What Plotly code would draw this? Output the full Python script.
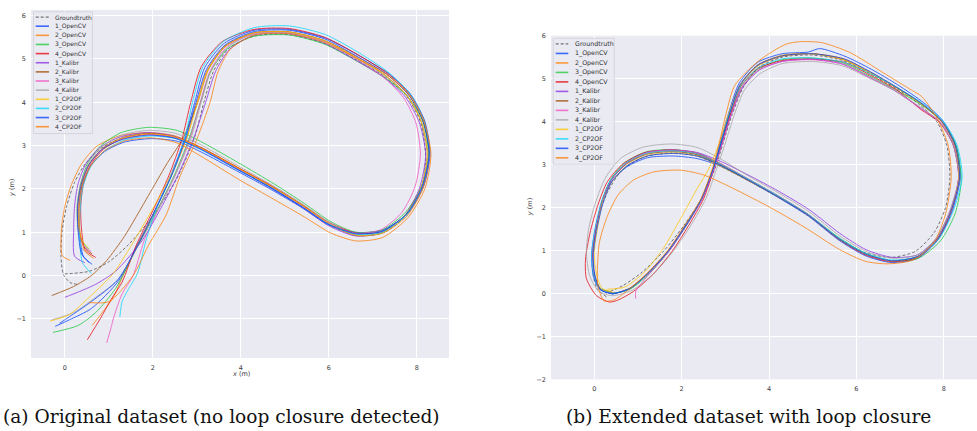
import plotly.graph_objects as go

# ---------------- data ----------------
NAMES = ["Groundtruth", "1_OpenCV", "2_OpenCV", "3_OpenCV", "4_OpenCV",
         "1_Kalibr", "2_Kalibr", "3_Kalibr", "4_Kalibr",
         "1_CP2OF", "2_CP2OF", "3_CP2OF", "4_CP2OF"]
COLORS = ["#555555", "#023eff", "#ff7c00", "#1ac938", "#e8000b",
          "#8b2be2", "#9f4800", "#f14cc1", "#a3a3a3",
          "#ffc400", "#00d7ff", "#023eff", "#ff7c00"]

X_TICKS = [0, 2, 4, 6, 8]
Y_TICKS_A = [-1, 0, 1, 2, 3, 4, 5, 6]
Y_TICKS_B = [-2, -1, 0, 1, 2, 3, 4, 5, 6]

CAPTION_A = "(a) Original dataset (no loop closure detected)"
CAPTION_B = "(b) Extended dataset with loop closure"

# (a) original dataset, no loop closure
GT_A = [(0.28,-0.20),(0.12,-0.16),(-0.03,0.02),(-0.09,0.45),(-0.06,1.05),(0.04,1.60),(0.22,2.15),(0.48,2.60),(0.88,2.98),(1.40,3.20),(2.00,3.28),(2.60,3.18),(3.20,2.90),(4.00,2.42),(4.80,1.96),(5.50,1.52),(6.10,1.12),(6.70,0.92),(7.30,1.02),(7.80,1.44),(8.12,2.06),(8.20,2.80),(8.08,3.55),(7.76,4.15),(7.26,4.60),(6.58,5.00),(5.88,5.36),(5.10,5.56),(4.30,5.53),(3.72,5.24),(3.38,4.72),(3.16,4.00),(2.95,3.20),(2.55,2.25),(2.02,1.40),(1.45,0.72),(1.00,0.32),(0.55,0.10),(0.00,0.04)]
A_1_OPENCV = [(0.62,0.26),(0.42,0.45),(0.33,1.05),(0.32,1.60),(0.40,2.10),(0.58,2.52),(0.90,2.86),(1.35,3.08),(1.95,3.16),(2.55,3.10),(3.10,2.85),(3.90,2.42),(4.70,1.98),(5.40,1.56),(6.00,1.17),(6.60,1.00),(7.20,1.04),(7.78,1.42),(8.15,2.05),(8.30,2.80),(8.18,3.56),(7.86,4.18),(7.36,4.66),(6.64,5.10),(5.92,5.48),(5.10,5.68),(4.30,5.66),(3.62,5.36),(3.18,4.80),(2.95,4.00),(2.72,3.15),(2.40,2.30),(2.05,1.52),(1.65,0.72),(1.22,-0.12),(0.60,-0.76),(0.10,-1.02),(-0.22,-1.17)]
A_2_OPENCV = [(0.12,0.35),(-0.06,0.46),(-0.08,1.05),(0.00,1.60),(0.15,2.10),(0.38,2.58),(0.72,2.98),(1.22,3.22),(1.90,3.30),(2.52,3.22),(3.12,2.94),(3.92,2.50),(4.72,2.04),(5.42,1.60),(6.02,1.18),(6.62,0.92),(7.22,0.98),(7.78,1.38),(8.14,2.02),(8.28,2.80),(8.14,3.56),(7.82,4.16),(7.32,4.64),(6.62,5.06),(5.90,5.42),(5.10,5.62),(4.30,5.60),(3.64,5.30),(3.24,4.75),(3.00,4.00),(2.76,3.15),(2.42,2.30),(2.06,1.52),(1.68,0.76),(1.30,-0.05),(1.10,-0.50),(0.85,-0.85),(0.62,-1.15)]
A_3_OPENCV = [(0.55,0.60),(0.40,0.78),(0.30,1.10),(0.28,1.60),(0.36,2.12),(0.52,2.60),(0.82,3.00),(1.28,3.30),(1.90,3.42),(2.55,3.35),(3.15,3.06),(3.95,2.60),(4.75,2.12),(5.45,1.66),(6.05,1.24),(6.62,1.00),(7.22,1.06),(7.76,1.48),(8.12,2.10),(8.26,2.82),(8.14,3.55),(7.80,4.12),(7.28,4.56),(6.58,4.98),(5.90,5.34),(5.10,5.55),(4.30,5.52),(3.68,5.22),(3.30,4.68),(3.08,4.00),(2.82,3.15),(2.48,2.30),(2.10,1.52),(1.66,0.70),(1.15,-0.30),(0.70,-0.85),(0.30,-1.15),(-0.27,-1.31)]
A_4_OPENCV = [(0.70,0.42),(0.46,0.60),(0.38,1.05),(0.36,1.60),(0.42,2.10),(0.58,2.55),(0.88,2.92),(1.32,3.16),(1.92,3.26),(2.52,3.18),(3.12,2.94),(3.92,2.50),(4.72,2.06),(5.42,1.62),(6.02,1.22),(6.62,0.98),(7.22,1.02),(7.78,1.44),(8.14,2.08),(8.28,2.82),(8.16,3.58),(7.84,4.18),(7.34,4.66),(6.62,5.12),(5.90,5.50),(5.10,5.70),(4.30,5.68),(3.58,5.40),(3.10,4.82),(2.86,4.00),(2.66,3.15),(2.36,2.30),(2.00,1.50),(1.62,0.70),(1.30,-0.15),(1.05,-0.55),(0.80,-1.00),(0.51,-1.48)]
A_1_KALIBR = [(0.45,0.30),(0.22,0.45),(0.20,1.05),(0.22,1.60),(0.30,2.12),(0.48,2.58),(0.80,2.96),(1.26,3.20),(1.88,3.30),(2.48,3.22),(3.08,2.94),(3.88,2.48),(4.68,2.02),(5.38,1.58),(5.98,1.16),(6.58,0.92),(7.18,0.98),(7.72,1.38),(8.06,2.02),(8.20,2.78),(8.06,3.52),(7.74,4.12),(7.24,4.58),(6.56,5.00),(5.86,5.38),(5.08,5.58),(4.30,5.55),(3.74,5.22),(3.42,4.70),(3.20,4.00),(2.92,3.15),(2.56,2.30),(2.18,1.55),(1.75,0.80),(1.15,0.10),(0.70,-0.20),(0.30,-0.38),(0.00,-0.50)]
A_2_KALIBR = [(0.62,0.50),(0.44,0.66),(0.32,1.05),(0.30,1.60),(0.38,2.10),(0.55,2.56),(0.86,2.94),(1.30,3.18),(1.90,3.28),(2.50,3.20),(3.10,2.94),(3.90,2.50),(4.70,2.05),(5.40,1.62),(6.00,1.20),(6.60,0.94),(7.20,0.98),(7.74,1.40),(8.10,2.04),(8.24,2.80),(8.10,3.55),(7.78,4.15),(7.28,4.62),(6.60,5.04),(5.90,5.42),(5.10,5.62),(4.30,5.60),(3.66,5.30),(3.26,4.75),(3.02,4.00),(2.70,3.20),(2.30,2.55),(1.90,1.85),(1.35,0.90),(0.95,0.35),(0.60,0.00),(0.20,-0.25),(-0.30,-0.46)]
A_3_KALIBR = [(0.60,0.55),(0.42,0.70),(0.32,1.05),(0.30,1.60),(0.38,2.10),(0.55,2.55),(0.86,2.92),(1.30,3.16),(1.90,3.26),(2.50,3.19),(3.10,2.93),(3.90,2.48),(4.70,2.03),(5.40,1.60),(6.00,1.20),(6.60,0.98),(7.18,1.06),(7.66,1.46),(7.96,2.06),(8.08,2.80),(7.98,3.52),(7.70,4.10),(7.24,4.58),(6.58,5.02),(5.90,5.40),(5.10,5.60),(4.30,5.58),(3.68,5.28),(3.30,4.72),(3.08,4.00),(2.84,3.15),(2.50,2.30),(2.12,1.52),(1.80,0.80),(1.55,0.00),(1.30,-0.42),(1.10,-1.00),(1.05,-1.20),(0.95,-1.55)]
A_4_KALIBR = [(0.58,0.45),(0.40,0.62),(0.30,1.05),(0.28,1.60),(0.35,2.10),(0.52,2.56),(0.82,2.96),(1.28,3.24),(1.90,3.35),(2.52,3.28),(3.12,3.00),(3.92,2.54),(4.72,2.08),(5.42,1.64),(6.02,1.22),(6.60,0.94),(7.20,0.98),(7.74,1.40),(8.10,2.04),(8.24,2.80),(8.10,3.55),(7.78,4.15),(7.28,4.60),(6.60,5.02),(5.90,5.40),(5.10,5.60),(4.30,5.57),(3.70,5.27),(3.32,4.72),(3.10,4.00),(2.86,3.15),(2.50,2.30),(2.12,1.52),(1.70,0.75),(1.20,-0.10),(0.70,-0.50),(0.20,-0.85),(-0.30,-1.02)]
A_1_CP2OF = [(0.55,0.62),(0.40,0.80),(0.32,1.10),(0.30,1.60),(0.37,2.10),(0.54,2.55),(0.84,2.92),(1.28,3.16),(1.90,3.27),(2.50,3.20),(3.10,2.94),(3.90,2.50),(4.70,2.05),(5.40,1.62),(6.00,1.20),(6.60,0.94),(7.20,0.98),(7.74,1.40),(8.10,2.04),(8.24,2.80),(8.10,3.55),(7.78,4.15),(7.28,4.62),(6.60,5.04),(5.90,5.42),(5.10,5.62),(4.30,5.60),(3.66,5.30),(3.26,4.75),(3.02,4.00),(2.76,3.15),(2.40,2.30),(2.00,1.55),(1.60,0.85),(1.10,0.05),(0.50,-0.55),(0.10,-0.90),(-0.34,-1.05)]
A_2_CP2OF = [(0.60,0.05),(0.40,0.30),(0.34,0.80),(0.34,1.40),(0.40,2.00),(0.58,2.50),(0.90,2.88),(1.34,3.12),(1.94,3.22),(2.52,3.16),(3.10,2.90),(3.90,2.46),(4.70,2.02),(5.40,1.58),(6.00,1.18),(6.60,0.96),(7.20,1.00),(7.76,1.40),(8.12,2.04),(8.28,2.80),(8.16,3.58),(7.84,4.20),(7.34,4.70),(6.62,5.18),(5.92,5.56),(5.10,5.76),(4.30,5.72),(3.60,5.40),(3.14,4.82),(2.90,4.00),(2.72,3.15),(2.42,2.30),(2.08,1.55),(1.84,0.80),(1.65,0.05),(1.45,-0.30),(1.30,-0.60),(1.25,-0.95)]
A_3_CP2OF = [(0.55,0.30),(0.38,0.50),(0.30,1.05),(0.29,1.60),(0.37,2.10),(0.54,2.55),(0.85,2.92),(1.30,3.14),(1.90,3.24),(2.50,3.17),(3.10,2.91),(3.90,2.46),(4.70,2.02),(5.40,1.58),(6.00,1.18),(6.60,0.97),(7.20,1.02),(7.76,1.42),(8.12,2.06),(8.28,2.80),(8.14,3.56),(7.82,4.16),(7.32,4.64),(6.60,5.08),(5.90,5.46),(5.10,5.66),(4.30,5.63),(3.64,5.32),(3.22,4.76),(2.98,4.00),(2.74,3.15),(2.42,2.30),(2.06,1.52),(1.68,0.74),(1.20,-0.10),(0.60,-0.60),(0.10,-0.95),(-0.12,-1.10)]
A_4_CP2OF = [(0.65,0.40),(0.45,0.58),(0.34,1.05),(0.33,1.60),(0.40,2.10),(0.58,2.52),(0.90,2.88),(1.34,3.10),(1.95,3.18),(2.55,3.06),(3.15,2.72),(3.95,2.22),(4.75,1.76),(5.45,1.35),(6.05,0.98),(6.62,0.80),(7.22,0.88),(7.80,1.34),(8.18,2.00),(8.32,2.80),(8.16,3.56),(7.84,4.16),(7.34,4.62),(6.62,5.02),(5.90,5.38),(5.10,5.58),(4.30,5.55),(3.76,5.22),(3.48,4.70),(3.30,4.00),(3.00,3.15),(2.62,2.30),(2.30,1.40),(1.90,0.70),(1.55,0.00),(1.00,-0.60),(0.55,-0.62)]

# (b) extended dataset with loop closure
GT_B = [(0.28,-0.08),(0.06,0.12),(-0.04,0.55),(-0.02,1.15),(0.08,1.75),(0.30,2.35),(0.62,2.85),(1.12,3.17),(1.75,3.27),(2.35,3.20),(2.85,2.98),(3.50,2.64),(4.20,2.25),(4.90,1.82),(5.60,1.28),(6.20,0.95),(6.80,0.84),(7.35,0.98),(7.78,1.42),(8.04,2.00),(8.14,2.70),(8.07,3.45),(7.84,4.00),(7.44,4.40),(6.90,4.78),(6.30,5.12),(5.70,5.42),(5.00,5.55),(4.30,5.50),(3.75,5.25),(3.40,4.78),(3.15,4.15),(2.95,3.50),(2.76,2.90),(2.45,2.20),(2.05,1.58),(1.60,1.00),(1.10,0.50),(0.65,0.18),(0.25,0.00)]
B_1_OPENCV = [(0.40,0.00),(0.12,0.10),(-0.02,0.40),(-0.06,0.90),(0.02,1.50),(0.17,2.10),(0.38,2.58),(0.75,2.95),(1.22,3.16),(1.80,3.20),(2.35,3.14),(2.85,2.98),(3.50,2.64),(4.20,2.24),(4.90,1.80),(5.60,1.24),(6.20,0.88),(6.80,0.72),(7.40,0.82),(7.86,1.24),(8.18,1.88),(8.38,2.70),(8.28,3.45),(7.98,4.02),(7.54,4.44),(6.94,4.86),(6.34,5.22),(5.74,5.52),(5.16,5.70),(4.90,5.62),(4.30,5.58),(3.74,5.38),(3.32,4.90),(3.08,4.22),(2.88,3.50),(2.72,2.90),(2.46,2.20),(2.10,1.60),(1.70,1.00),(1.25,0.50),(0.80,0.10),(0.40,-0.02)]
B_2_OPENCV = [(0.45,0.02),(0.15,0.10),(0.00,0.42),(-0.04,0.92),(0.04,1.52),(0.17,2.12),(0.37,2.62),(0.72,3.02),(1.20,3.26),(1.80,3.32),(2.35,3.24),(2.85,3.02),(3.50,2.66),(4.20,2.26),(4.90,1.83),(5.60,1.28),(6.20,0.92),(6.80,0.76),(7.40,0.86),(7.86,1.28),(8.16,1.90),(8.36,2.70),(8.26,3.45),(7.96,4.00),(7.52,4.40),(6.92,4.80),(6.32,5.15),(5.72,5.46),(5.00,5.58),(4.30,5.52),(3.75,5.30),(3.35,4.85),(3.10,4.20),(2.90,3.50),(2.72,2.90),(2.45,2.20),(2.10,1.60),(1.70,1.00),(1.25,0.50),(0.80,0.12),(0.45,0.00)]
B_3_OPENCV = [(0.40,0.02),(0.14,0.12),(0.00,0.44),(-0.04,0.94),(0.04,1.54),(0.18,2.14),(0.38,2.66),(0.72,3.06),(1.20,3.30),(1.80,3.35),(2.36,3.27),(2.86,3.04),(3.50,2.68),(4.20,2.28),(4.90,1.84),(5.60,1.30),(6.20,0.94),(6.80,0.76),(7.42,0.82),(7.92,1.22),(8.26,1.86),(8.40,2.64),(8.28,3.44),(7.96,4.00),(7.50,4.38),(6.90,4.74),(6.30,5.06),(5.70,5.36),(5.00,5.48),(4.30,5.44),(3.76,5.22),(3.38,4.80),(3.12,4.18),(2.92,3.50),(2.73,2.90),(2.46,2.20),(2.12,1.60),(1.72,1.00),(1.28,0.48),(0.82,0.10),(0.40,0.00)]
B_4_OPENCV = [(0.35,-0.20),(0.05,-0.05),(-0.18,0.35),(-0.20,0.80),(-0.10,1.40),(0.08,2.05),(0.30,2.60),(0.66,3.02),(1.16,3.28),(1.78,3.34),(2.35,3.26),(2.85,3.02),(3.50,2.66),(4.20,2.26),(4.90,1.82),(5.60,1.26),(6.20,0.90),(6.80,0.74),(7.40,0.84),(7.86,1.26),(8.16,1.88),(8.34,2.70),(8.22,3.45),(7.90,3.98),(7.48,4.28),(6.92,4.74),(6.32,5.08),(5.72,5.38),(5.00,5.46),(4.30,5.42),(3.75,5.24),(3.36,4.82),(3.12,4.18),(2.92,3.50),(2.74,2.90),(2.50,2.20),(2.16,1.58),(1.78,0.98),(1.35,0.45),(0.90,0.05),(0.55,-0.15),(0.35,-0.20)]
B_1_KALIBR = [(0.42,0.00),(0.13,0.10),(0.00,0.42),(-0.04,0.92),(0.04,1.52),(0.18,2.12),(0.38,2.62),(0.73,3.03),(1.20,3.28),(1.80,3.34),(2.36,3.28),(2.88,3.08),(3.52,2.76),(4.22,2.38),(4.92,1.95),(5.62,1.40),(6.22,1.02),(6.82,0.84),(7.40,0.90),(7.84,1.30),(8.14,1.92),(8.34,2.70),(8.22,3.44),(7.92,3.98),(7.46,4.32),(6.88,4.72),(6.28,5.04),(5.68,5.34),(5.00,5.45),(4.30,5.40),(3.78,5.20),(3.40,4.80),(3.14,4.18),(2.93,3.50),(2.74,2.90),(2.47,2.20),(2.12,1.60),(1.72,1.00),(1.27,0.50),(0.82,0.12),(0.42,0.00)]
B_2_KALIBR = [(0.42,0.00),(0.14,0.10),(0.00,0.43),(-0.04,0.93),(0.04,1.53),(0.17,2.13),(0.37,2.62),(0.72,3.00),(1.20,3.24),(1.80,3.30),(2.35,3.23),(2.85,3.00),(3.50,2.65),(4.20,2.26),(4.90,1.82),(5.60,1.27),(6.20,0.92),(6.80,0.76),(7.40,0.86),(7.86,1.28),(8.16,1.90),(8.35,2.70),(8.25,3.45),(7.95,4.00),(7.50,4.40),(6.90,4.80),(6.30,5.14),(5.70,5.44),(5.00,5.58),(4.30,5.54),(3.74,5.32),(3.34,4.86),(3.10,4.20),(2.90,3.50),(2.72,2.90),(2.45,2.20),(2.10,1.60),(1.70,1.00),(1.26,0.50),(0.82,0.12),(0.42,0.00)]
B_3_KALIBR = [(0.40,0.00),(0.14,0.10),(0.00,0.42),(-0.05,0.92),(0.03,1.52),(0.17,2.12),(0.37,2.62),(0.72,3.03),(1.20,3.28),(1.80,3.34),(2.36,3.27),(2.86,3.04),(3.50,2.68),(4.20,2.28),(4.90,1.84),(5.60,1.28),(6.20,0.92),(6.80,0.76),(7.40,0.86),(7.86,1.28),(8.16,1.90),(8.34,2.70),(8.24,3.45),(7.94,3.98),(7.46,4.32),(6.88,4.72),(6.28,5.04),(5.68,5.34),(5.00,5.44),(4.30,5.40),(3.76,5.20),(3.38,4.80),(3.14,4.18),(2.93,3.50),(2.74,2.90),(2.46,2.20),(2.10,1.60),(1.72,1.00),(1.30,0.50),(0.95,0.05),(0.95,-0.12)]
B_4_KALIBR = [(0.42,-0.05),(0.10,0.05),(-0.10,0.40),(-0.18,0.95),(-0.12,1.55),(0.04,2.15),(0.26,2.70),(0.60,3.14),(1.10,3.40),(1.75,3.48),(2.35,3.40),(2.88,3.14),(3.52,2.74),(4.22,2.34),(4.92,1.90),(5.62,1.34),(6.22,0.98),(6.82,0.82),(7.40,0.90),(7.84,1.30),(8.14,1.92),(8.34,2.70),(8.22,3.44),(7.92,3.98),(7.46,4.34),(6.88,4.72),(6.28,5.02),(5.68,5.30),(5.00,5.40),(4.30,5.35),(3.80,5.12),(3.44,4.74),(3.20,4.14),(3.00,3.50),(2.80,2.90),(2.55,2.20),(2.22,1.60),(1.82,1.00),(1.38,0.48),(0.88,0.08),(0.42,-0.05)]
B_1_CP2OF = [(0.40,0.05),(0.18,0.12),(0.05,0.45),(0.00,0.95),(0.08,1.55),(0.20,2.15),(0.42,2.62),(0.78,3.00),(1.25,3.22),(1.82,3.27),(2.36,3.20),(2.86,2.98),(3.50,2.64),(4.20,2.25),(4.90,1.82),(5.60,1.27),(6.20,0.92),(6.80,0.76),(7.40,0.86),(7.86,1.28),(8.16,1.90),(8.35,2.70),(8.25,3.45),(7.95,4.00),(7.50,4.40),(6.90,4.80),(6.30,5.14),(5.70,5.44),(5.00,5.58),(4.30,5.54),(3.74,5.30),(3.34,4.85),(3.08,4.20),(2.86,3.50),(2.62,2.90),(2.36,2.45),(1.98,1.75),(1.58,1.05),(1.15,0.50),(0.70,0.15),(0.30,0.10)]
B_2_CP2OF = [(0.42,0.00),(0.13,0.10),(-0.01,0.42),(-0.06,0.92),(0.02,1.52),(0.16,2.12),(0.36,2.62),(0.70,3.02),(1.18,3.26),(1.80,3.32),(2.35,3.25),(2.85,3.02),(3.50,2.67),(4.20,2.27),(4.90,1.83),(5.60,1.29),(6.20,0.94),(6.80,0.78),(7.40,0.86),(7.88,1.26),(8.20,1.88),(8.42,2.70),(8.30,3.46),(7.98,4.02),(7.52,4.42),(6.92,4.80),(6.32,5.12),(5.72,5.38),(5.00,5.48),(4.30,5.46),(3.76,5.26),(3.36,4.84),(3.10,4.20),(2.90,3.50),(2.72,2.90),(2.45,2.20),(2.10,1.60),(1.70,1.00),(1.26,0.50),(0.82,0.12),(0.42,0.00)]
B_3_CP2OF = [(0.42,0.00),(0.15,0.08),(0.02,0.40),(-0.02,0.90),(0.06,1.50),(0.20,2.10),(0.40,2.60),(0.76,2.98),(1.22,3.20),(1.80,3.26),(2.35,3.20),(2.85,3.00),(3.50,2.65),(4.20,2.25),(4.90,1.82),(5.60,1.27),(6.20,0.92),(6.80,0.76),(7.40,0.86),(7.86,1.28),(8.16,1.90),(8.36,2.70),(8.26,3.45),(7.96,4.00),(7.52,4.40),(6.92,4.80),(6.32,5.16),(5.72,5.46),(5.00,5.58),(4.30,5.53),(3.75,5.32),(3.34,4.86),(3.10,4.20),(2.90,3.50),(2.72,2.90),(2.45,2.20),(2.10,1.60),(1.70,1.00),(1.26,0.50),(0.82,0.12),(0.42,0.00)]
B_4_CP2OF = [(0.45,-0.15),(0.22,-0.17),(0.08,0.20),(0.07,0.50),(0.12,1.20),(0.30,1.80),(0.55,2.30),(0.90,2.64),(1.36,2.83),(1.97,2.87),(2.50,2.76),(3.03,2.52),(3.94,2.05),(4.80,1.55),(5.62,1.02),(6.20,0.75),(6.70,0.69),(7.30,0.78),(7.78,1.20),(8.04,1.85),(8.17,2.70),(8.10,3.45),(7.86,4.05),(7.50,4.58),(7.22,4.76),(6.61,5.14),(5.85,5.61),(5.20,5.84),(4.70,5.86),(4.38,5.80),(3.77,5.42),(3.22,4.85),(3.02,4.20),(2.86,3.50),(2.70,2.90),(2.44,2.20),(2.08,1.60),(1.68,1.00),(1.24,0.50),(0.80,0.10),(0.45,-0.15)]

TRACES_A = [GT_A, A_1_OPENCV, A_2_OPENCV, A_3_OPENCV, A_4_OPENCV, A_1_KALIBR, A_2_KALIBR,
            A_3_KALIBR, A_4_KALIBR, A_1_CP2OF, A_2_CP2OF, A_3_CP2OF, A_4_CP2OF]
TRACES_B = [GT_B, B_1_OPENCV, B_2_OPENCV, B_3_OPENCV, B_4_OPENCV, B_1_KALIBR, B_2_KALIBR,
            B_3_KALIBR, B_4_KALIBR, B_1_CP2OF, B_2_CP2OF, B_3_CP2OF, B_4_CP2OF]

# ---------------- layout helpers (pixels -> paper) ----------------
W, H = 977, 431
def PX(x): return x / W
def PY(y): return 1 - y / H

GT_DASH = "3px,2px"
fig = go.Figure()

def add_set(traces, xa, ya):
    for name, color, pts in zip(NAMES, COLORS, traces):
        is_gt = name == "Groundtruth"
        fig.add_trace(go.Scatter(
            x=[p[0] for p in pts], y=[p[1] for p in pts], mode="lines",
            name=name, xaxis=xa, yaxis=ya, showlegend=False, hoverinfo="skip",
            opacity=0.8 if is_gt else 0.75,
            line=dict(color=color, width=1, shape="spline", smoothing=0.7,
                      dash=GT_DASH if is_gt else "solid")))

add_set(TRACES_A, "x", "y")
add_set(TRACES_B, "x2", "y2")

TICKFONT = dict(family="DejaVu Sans", size=6.5, color="#3c3c3c")
common = dict(showgrid=True, gridcolor="white", gridwidth=1, zeroline=False,
              showline=False, ticks="", tickfont=TICKFONT, ticklabelstandoff=4)

fig.update_layout(
    width=W, height=H, margin=dict(l=0, r=0, t=0, b=0),
    paper_bgcolor="white", plot_bgcolor="#EAEAF2", showlegend=False,
    xaxis=dict(domain=[PX(31), PX(449)], range=[-0.77, 8.73], tickvals=X_TICKS,
               anchor="y", **common),
    yaxis=dict(domain=[PY(360.7), PY(6)], range=[-1.9, 6.13], tickvals=Y_TICKS_A,
               anchor="x", **common),
    xaxis2=dict(domain=[PX(551), 1.0], range=[-0.99, 8.76], tickvals=X_TICKS,
                anchor="y2", **common),
    yaxis2=dict(domain=[PY(382.5), PY(32.3)], range=[-2, 6], tickvals=Y_TICKS_B,
                anchor="x2", **common),
)

shapes, annots = [], []

def legend(box, row0, step, lx0, lx1, tx, fsize):
    bx0, by0, bx1, by1 = box
    shapes.append(dict(type="rect", xref="paper", yref="paper",
                       x0=PX(bx0), x1=PX(bx1), y0=PY(by1), y1=PY(by0),
                       fillcolor="rgba(234,234,242,0.85)",
                       line=dict(color="rgba(205,205,210,0.9)", width=0.8), layer="above"))
    for i, (name, color) in enumerate(zip(NAMES, COLORS)):
        yy = row0 + i * step
        is_gt = name == "Groundtruth"
        shapes.append(dict(type="line", xref="paper", yref="paper",
                           x0=PX(lx0), x1=PX(lx1), y0=PY(yy), y1=PY(yy),
                           opacity=0.8 if is_gt else 0.75,
                           line=dict(color=color, width=1.2 if is_gt else 1.6,
                                     dash=GT_DASH if is_gt else "solid"),
                           layer="above"))
        annots.append(dict(xref="paper", yref="paper", x=PX(tx), y=PY(yy),
                           xanchor="left", yanchor="middle", showarrow=False,
                           text=name, font=dict(family="DejaVu Sans", size=fsize,
                                                color="#333333")))

legend((33.5, 8, 92.5, 132), 13.3, 9.31, 35.7, 49, 52.5, 6)
legend((553.3, 35, 614.3, 163.3), 40.7, 9.67, 555.7, 568.3, 573, 6.3)

TITLEFONT = dict(family="DejaVu Sans", size=6.5, color="#3c3c3c")
annots.append(dict(xref="paper", yref="paper", x=PX(241), y=PY(376.5), text="<i>x</i> (m)",
                   showarrow=False, font=TITLEFONT, xanchor="center", yanchor="middle"))
annots.append(dict(xref="paper", yref="paper", x=PX(11.5), y=PY(188), text="<i>y</i> (m)",
                   showarrow=False, font=TITLEFONT, textangle=-90,
                   xanchor="center", yanchor="middle"))
annots.append(dict(xref="paper", yref="paper", x=PX(530), y=PY(207), text="<i>y</i> (m)",
                   showarrow=False, font=TITLEFONT, textangle=-90,
                   xanchor="center", yanchor="middle"))

CAPFONT = dict(family="DejaVu Serif", size=18.6, color="#111111")
annots.append(dict(xref="paper", yref="paper", x=PX(1), y=PY(420), text=CAPTION_A,
                   showarrow=False, font=CAPFONT, xanchor="left", yanchor="middle"))
annots.append(dict(xref="paper", yref="paper", x=PX(748.5), y=PY(420), text=CAPTION_B,
                   showarrow=False, font=CAPFONT, xanchor="center", yanchor="middle"))

fig.update_layout(shapes=shapes, annotations=annots)
fig.write_html("out.html")
